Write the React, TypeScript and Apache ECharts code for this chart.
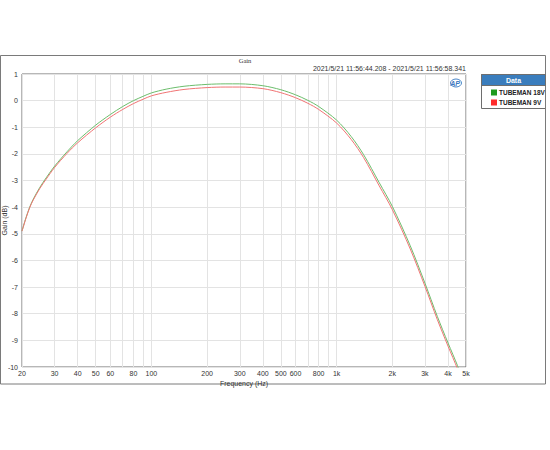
import { useEffect, useRef } from "react";
import * as echarts from "echarts";

const freqs = [
  20, 21, 22, 23, 25, 27, 30, 35, 40, 50, 60, 70, 80, 90, 100, 120, 150, 200, 250, 300, 400, 500, 600,
  700, 800, 1000, 1200, 1400, 1700, 2000, 2500, 3000, 3500, 4000, 4500, 5000,
];

const gain18V = [
  -4.89, -4.4, -4.0, -3.7, -3.25, -2.9, -2.46, -1.92, -1.5, -0.92, -0.52, -0.22, 0.0, 0.16, 0.29, 0.43,
  0.54, 0.61, 0.63, 0.63, 0.56, 0.41, 0.22, 0.01, -0.22, -0.73, -1.35, -2.03, -3.08, -3.97, -5.45,
  -6.85, -8.1, -9.1, -9.95, -10.8,
];

const gain9V = [
  -4.9, -4.42, -4.02, -3.73, -3.29, -2.95, -2.51, -1.98, -1.58, -1.02, -0.62, -0.33, -0.11, 0.05, 0.18,
  0.31, 0.42, 0.49, 0.51, 0.51, 0.45, 0.3, 0.11, -0.1, -0.33, -0.84, -1.46, -2.14, -3.2, -4.09, -5.57,
  -6.97, -8.22, -9.22, -10.07, -10.92,
];

const gridFreqs = [
  20, 30, 40, 50, 60, 70, 80, 90, 100, 200, 300, 400, 500, 600, 700, 800, 900, 1000, 2000, 3000, 4000,
  5000,
];
const labelFreqs = [20, 30, 40, 50, 60, 80, 100, 200, 300, 400, 500, 600, 800, 1000, 2000, 3000, 4000, 5000];

const seriesNames = ["TUBEMAN 18V", "TUBEMAN 9V"];
const timeRange = "2021/5/21 11:56:44.208 - 2021/5/21 11:56:58.341";

const font = "Liberation Sans";

export default function App() {
  const containerRef = useRef<HTMLDivElement>(null);

  useEffect(() => {
    if (!containerRef.current) return;
    document.body.style.margin = "0";

    const chart = echarts.init(containerRef.current, null, { renderer: "svg" });

    chart.setOption({
      animation: false,
      backgroundColor: "#fff",
      textStyle: { fontFamily: font },
      grid: {
        left: 22,
        top: 74,
        width: 444,
        height: 293,
        containLabel: false,
        outerBoundsMode: "none",
        show: true,
        borderColor: "#6e6e6e",
        borderWidth: 1,
        backgroundColor: "#fff",
      },
      xAxis: {
        type: "log",
        logBase: 10,
        min: 20,
        max: 5000,
        name: "Frequency (Hz)",
        nameLocation: "middle",
        nameGap: 12.5,
        nameMoveOverlap: false,
        nameTextStyle: { fontSize: 7, color: "#333", fontFamily: font },
        axisLine: { show: false },
        axisTick: { show: false, customValues: gridFreqs },
        axisLabel: {
          customValues: labelFreqs,
          fontSize: 7,
          color: "#333",
          margin: 3,
          formatter: (v: number) => (v >= 1000 ? `${Math.round(v / 1000)}k` : `${Math.round(v)}`),
        },
        splitLine: { show: true, lineStyle: { color: "#e3e3e3", width: 1 } },
      },
      yAxis: {
        type: "value",
        min: -10,
        max: 1,
        interval: 1,
        name: "Gain (dB)",
        nameLocation: "middle",
        nameGap: 14,
        nameMoveOverlap: false,
        nameTextStyle: { fontSize: 7, color: "#333", fontFamily: font },
        axisLine: { show: false },
        axisTick: { show: false },
        axisLabel: { fontSize: 7, color: "#333", margin: 4 },
        splitLine: { show: true, lineStyle: { color: "#e3e3e3", width: 1 } },
      },
      legend: {
        data: [
          { name: seriesNames[0], itemStyle: { color: "#1f9a1f" } },
          { name: seriesNames[1], itemStyle: { color: "#ff2b2b" } },
        ],
        orient: "vertical",
        left: 491,
        top: 89,
        icon: "rect",
        itemWidth: 6,
        itemHeight: 6,
        itemGap: 3,
        padding: 0,
        selectedMode: false,
        textStyle: { fontSize: 6.5, fontWeight: "bold", color: "#222", fontFamily: font, padding: [0, 0, 0, -3] },
      },
      series: [
        {
          name: seriesNames[0],
          type: "line",
          smooth: 0.3,
          showSymbol: false,
          clip: true,
          itemStyle: { color: "#1f9a1f" },
          lineStyle: { color: "#6cbd6c", width: 1 },
          data: freqs.map((f, i) => [f, gain18V[i]]),
        },
        {
          name: seriesNames[1],
          type: "line",
          smooth: 0.3,
          showSymbol: false,
          clip: true,
          itemStyle: { color: "#ff2b2b" },
          lineStyle: { color: "#f07474", width: 1 },
          data: freqs.map((f, i) => [f, gain9V[i]]),
        },
      ],
      graphic: [
        {
          type: "rect",
          shape: { x: 0.5, y: 55.5, width: 545, height: 328.5 },
          style: { fill: "none", stroke: "#7a7a7a", lineWidth: 1 },
          silent: true,
        },
        {
          type: "text",
          x: 245,
          y: 60,
          style: {
            text: "Gain",
            fontSize: 6.5,
            fontFamily: "Liberation Serif",
            fill: "#333",
            align: "center",
            verticalAlign: "middle",
          },
        },
        {
          type: "text",
          x: 466,
          y: 68,
          style: {
            text: timeRange,
            fontSize: 7,
            fontFamily: font,
            fill: "#333",
            align: "right",
            verticalAlign: "middle",
          },
        },
        {
          type: "group",
          children: [
            {
              type: "ellipse",
              shape: { cx: 456, cy: 83, rx: 5.5, ry: 4 },
              style: { fill: "none", stroke: "#4a86c8", lineWidth: 1 },
            },
            {
              type: "text",
              x: 455,
              y: 83,
              style: {
                text: "AP",
                fontSize: 7,
                fontStyle: "italic",
                fontWeight: "bold",
                fontFamily: font,
                fill: "#3c78c0",
                align: "center",
                verticalAlign: "middle",
              },
            },
          ],
        },
        {
          type: "rect",
          shape: { x: 481.5, y: 74.5, width: 64, height: 34 },
          style: { fill: "#fff", stroke: "#6e6e6e", lineWidth: 1 },
          z: -1,
        },
        {
          type: "rect",
          shape: { x: 481.5, y: 74.5, width: 64, height: 11 },
          style: { fill: "#3a7dbd", stroke: "#6e6e6e", lineWidth: 1 },
        },
        {
          type: "text",
          x: 513.5,
          y: 80,
          style: {
            text: "Data",
            fontSize: 7,
            fontWeight: "bold",
            fontFamily: font,
            fill: "#fff",
            align: "center",
            verticalAlign: "middle",
          },
        },
      ],
    });

    return () => {
      chart.dispose();
    };
  }, []);

  return <div ref={containerRef} style={{ width: "550px", height: "450px" }} />;
}
